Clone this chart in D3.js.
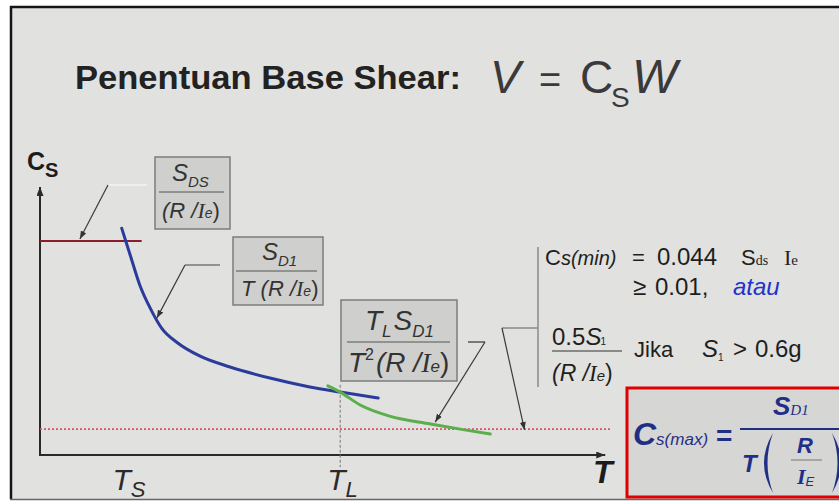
<!DOCTYPE html>
<html>
<head>
<meta charset="utf-8">
<script src="https://cdn.jsdelivr.net/npm/d3@7"></script>
<style>
body { margin: 0; background: #fff; }
svg { display: block; }
text { font-family: "Liberation Sans", Arial, sans-serif; white-space: pre; }
</style>
</head>
<body>
<div id="chart"></div>
<script>
const width = 839, height = 502;

// values (T in s, Cs dimensionless)
const plateauT = [0, 1.07];
const plateauCs = 0.793;
const descT = [0.86, 0.95, 1.05, 1.16, 1.28, 1.45, 1.68, 2.0, 2.42, 2.84, 3.16, 3.56];
const descCs = [0.84, 0.74, 0.63, 0.544, 0.47, 0.415, 0.367, 0.326, 0.285, 0.252, 0.233, 0.211];
const longT = [3.03, 3.16, 3.37, 3.68, 4.11, 4.47, 4.74];
const longCs = [0.256, 0.233, 0.185, 0.144, 0.115, 0.093, 0.078];
const csMin = 0.096;
const periodTicks = [0.9, 3.16];
const periodSubs = ["S", "L"];
const tMax = 6, csTop = 1;

// where the leader arrows point (data units)
const arrowT = [0.42, 1.23, 4.16, 5.1];
const arrowCs = [0.80, 0.507, 0.122, 0.093];

const svg = d3.select("#chart").append("svg")
    .attr("width", width)
    .attr("height", height);

const x = d3.scaleLinear().domain([0, tMax]).range([40, 610]);
const y = d3.scaleLinear().domain([0, csTop]).range([455, 185]);

// slide frame
svg.append("rect").attr("x", 10).attr("y", 7).attr("width", width - 10).attr("height", 492)
    .attr("fill", "#e1e1df");
svg.append("line").attr("x1", 10).attr("x2", width).attr("y1", 7).attr("y2", 7)
    .attr("stroke", "#151515").attr("stroke-width", 2.5);
svg.append("line").attr("x1", 11).attr("x2", 11).attr("y1", 6).attr("y2", 499)
    .attr("stroke", "#151515").attr("stroke-width", 2.5);
svg.append("line").attr("x1", 10).attr("x2", width).attr("y1", 499.5).attr("y2", 499.5)
    .attr("stroke", "#666").attr("stroke-width", 1.5);

const defs = svg.append("defs");
const marker = (id, color, w, h) => {
    defs.append("marker").attr("id", id)
        .attr("markerUnits", "userSpaceOnUse")
        .attr("markerWidth", w).attr("markerHeight", h)
        .attr("refX", w).attr("refY", h / 2)
        .attr("orient", "auto")
        .append("path").attr("d", `M0,0L${w},${h / 2}L0,${h}Z`).attr("fill", color);
};
marker("axisArrow", "#2a2a2a", 9, 7);
marker("leadArrow", "#333", 8, 6);

// rich text helper: parts with size, italic, bold, serif, baseline shift
const rich = (px, py, parts, fill) => {
    const t = svg.append("text").attr("x", px).attr("y", py).attr("fill", fill || "#333");
    let cur = 0;
    parts.forEach(p => {
        const sh = p.sh || 0;
        const ts = t.append("tspan")
            .attr("dy", sh - cur)
            .attr("font-size", p.s)
            .attr("font-style", p.i ? "italic" : "normal")
            .attr("font-weight", p.b ? "bold" : "normal")
            .text(p.t);
        if (p.x !== undefined) ts.attr("x", p.x);
        if (p.dx) ts.attr("dx", p.dx);
        if (p.f) ts.attr("font-family", "'Liberation Serif', 'Times New Roman', serif");
        if (p.fill) ts.attr("fill", p.fill);
        cur = sh;
    });
    return t;
};

// title
svg.append("text").attr("x", 75).attr("y", 89)
    .attr("font-size", 33).attr("font-weight", "bold").attr("fill", "#222")
    .attr("textLength", 386).attr("lengthAdjust", "spacingAndGlyphs")
    .text("Penentuan Base Shear:");
rich(490, 93, [
    {t: "V", s: 46, i: true},
    {t: "=", s: 38, x: 539},
    {t: "C", s: 46, x: 580},
    {t: "S", s: 28, x: 611, sh: 14},
    {t: "W", s: 48, i: true, x: 632, sh: 0}
], "#3a3a3a");

// axes
const xAxis = d3.axisBottom(x).tickValues([]).tickSizeOuter(0);
const gx = svg.append("g").attr("transform", `translate(0,${y(0)})`).call(xAxis);
gx.select(".domain").remove();
gx.append("line").attr("x1", x(0)).attr("x2", x(5.95)).attr("y1", 0).attr("y2", 0)
    .attr("stroke", "#2a2a2a").attr("stroke-width", 2).attr("marker-end", "url(#axisArrow)");

const yAxis = d3.axisLeft(y).tickValues([]).tickSizeOuter(0);
const gy = svg.append("g").attr("transform", `translate(${x(0)},0)`).call(yAxis);
gy.select(".domain").remove();
gy.append("line").attr("x1", 0).attr("x2", 0).attr("y1", y(0) + 1).attr("y2", y(0.993))
    .attr("stroke", "#2a2a2a").attr("stroke-width", 2).attr("marker-end", "url(#axisArrow)");

// axis titles
rich(27, 170, [{t: "C", s: 25, b: true}, {t: "S", s: 20, b: true, sh: 7}], "#1c1c1c");
rich(593, 483, [{t: "T", s: 32, b: true, i: true}], "#1c1c1c");

// period labels + T_L guide
periodTicks.forEach((t, i) => {
    rich(x(t) - 13, 490, [{t: "T", s: 30, i: true}, {t: periodSubs[i], s: 22, i: true, sh: 7}], "#2a2a2a");
});
svg.append("line")
    .attr("x1", x(periodTicks[1])).attr("x2", x(periodTicks[1]))
    .attr("y1", y(0.26)).attr("y2", y(-0.045))
    .attr("stroke", "#777").attr("stroke-width", 1).attr("stroke-dasharray", "3,2");

// Cs min line
svg.append("line")
    .attr("x1", x(0)).attr("x2", x(tMax)).attr("y1", y(csMin)).attr("y2", y(csMin))
    .attr("stroke", "#e0506a").attr("stroke-width", 1.6).attr("stroke-dasharray", "2,2");

// plateau
svg.append("line")
    .attr("x1", x(plateauT[0])).attr("x2", x(plateauT[1]))
    .attr("y1", y(plateauCs)).attr("y2", y(plateauCs))
    .attr("stroke", "#8a1c2e").attr("stroke-width", 2);

const line = d3.line().x(d => x(d[0])).y(d => y(d[1])).curve(d3.curveMonotoneX);
svg.append("path").datum(descT.map((t, i) => [t, descCs[i]]))
    .attr("d", line).attr("fill", "none")
    .attr("stroke", "#2b3b9c").attr("stroke-width", 3).attr("stroke-linecap", "round");
svg.append("path").datum(longT.map((t, i) => [t, longCs[i]]))
    .attr("d", line).attr("fill", "none")
    .attr("stroke", "#5aae4c").attr("stroke-width", 3).attr("stroke-linecap", "round");

// formula boxes
const boxes = [
    {x: 155, y: 157, w: 75, h: 72},
    {x: 233, y: 237, w: 90, h: 68},
    {x: 341, y: 300, w: 116, h: 81}
];
svg.selectAll("rect.box").data(boxes).enter().append("rect")
    .attr("class", "box")
    .attr("x", d => d.x).attr("y", d => d.y).attr("width", d => d.w).attr("height", d => d.h)
    .attr("fill", "#cfcfcd").attr("stroke", "#7c7c7c").attr("stroke-width", 1.5);

const fracLine = (x1, x2, yy, color, w) => svg.append("line")
    .attr("x1", x1).attr("x2", x2).attr("y1", yy).attr("y2", yy)
    .attr("stroke", color || "#555").attr("stroke-width", w || 1);

rich(172, 181, [{t: "S", s: 24, i: true}, {t: "DS", s: 15, i: true, sh: 6}]);
fracLine(159, 224, 192);
rich(162, 218, [{t: "(R /", s: 22, i: true}, {t: "I", s: 22, i: true, f: true}, {t: "e", s: 14, i: true, sh: 0}, {t: ")", s: 22}]);

rich(262, 260, [{t: "S", s: 24, i: true}, {t: "D1", s: 15, i: true, sh: 6}]);
fracLine(236, 317, 271);
rich(241, 296, [{t: "T", s: 22, i: true}, {t: " (R /", s: 22, i: true}, {t: "I", s: 22, i: true, f: true}, {t: "e", s: 14, i: true}, {t: ")", s: 22}]);

rich(365, 330, [{t: "T", s: 28, i: true}, {t: "L", s: 17, i: true, sh: 7}, {t: "S", s: 28, i: true, sh: 0, dx: 2}, {t: "D1", s: 17, i: true, sh: 7}]);
fracLine(347, 450, 342);
rich(348, 372, [{t: "T", s: 28, i: true}, {t: "2", s: 16, sh: -12}, {t: "(R /", s: 28, i: true, sh: 0, dx: 2}, {t: "I", s: 28, i: true, f: true}, {t: "e", s: 17, i: true}, {t: ")", s: 28}]);

// leaders
const leaders = [
    {pts: [[147, 185], [108, 185]], color: "#f2f2f2"},
    {pts: [[220, 265], [185, 265]], color: "#777"},
    {pts: [[468, 342], [485, 342]], color: "#555"},
    {pts: [[538, 328], [502, 328]], color: "#888"}
];
leaders.forEach((l, i) => {
    svg.append("line")
        .attr("x1", l.pts[0][0]).attr("y1", l.pts[0][1]).attr("x2", l.pts[1][0]).attr("y2", l.pts[1][1])
        .attr("stroke", l.color).attr("stroke-width", 1.5);
    svg.append("line")
        .attr("x1", l.pts[1][0]).attr("y1", l.pts[1][1])
        .attr("x2", x(arrowT[i])).attr("y2", y(arrowCs[i]))
        .attr("stroke", "#3a3a3a").attr("stroke-width", 1.2).attr("marker-end", "url(#leadArrow)");
});

// bracket for the Cs(min) rules
svg.append("line").attr("x1", 538).attr("x2", 538).attr("y1", 247).attr("y2", 387)
    .attr("stroke", "#8a8a8a").attr("stroke-width", 1.5);

rich(545, 265, [
    {t: "C", s: 22},
    {t: "s(min)", s: 20, i: true},
    {t: "=", s: 22, x: 632},
    {t: "0.044", s: 24, x: 657},
    {t: "S", s: 22, x: 741},
    {t: "ds", s: 14, f: true},
    {t: "I", s: 22, f: true, x: 784},
    {t: "e", s: 15, f: true}
], "#1e1e1e");
rich(633, 295, [
    {t: "≥", s: 24},
    {t: "0.01,", s: 24, x: 655},
    {t: "atau", s: 24, i: true, x: 733, fill: "#2233cc"}
], "#1e1e1e");
rich(552, 345, [{t: "0.5", s: 24}, {t: "S", s: 24, i: true}, {t: "1", s: 10, sh: 0, dx: -1}], "#1e1e1e");
fracLine(552, 622, 351, "#333", 1.2);
rich(552, 381, [{t: "(R /", s: 23, i: true}, {t: "I", s: 23, i: true, f: true}, {t: "e", s: 15, i: true}, {t: ")", s: 23}], "#1e1e1e");
rich(634, 357, [
    {t: "Jika", s: 22},
    {t: "S", s: 24, i: true, x: 702},
    {t: "1", s: 10, sh: 4},
    {t: ">", s: 24, x: 733, sh: 0},
    {t: "0.6g", s: 24, x: 755}
], "#1e1e1e");

// Cs(max) box
svg.append("rect").attr("x", 627).attr("y", 388).attr("width", 230).attr("height", 109)
    .attr("fill", "#d6d6d4").attr("stroke", "#e00000").attr("stroke-width", 3);
const navy = "#1f2f86";
rich(633, 445, [{t: "C", s: 32, b: true, i: true}, {t: "s(max)", s: 17, i: true}], navy);
rich(716, 445, [{t: "=", s: 28, b: true}], navy);
rich(773, 415, [{t: "S", s: 26, b: true, i: true}, {t: "D1", s: 15, i: true, f: true}], navy);
fracLine(740, width, 429, navy, 2);
rich(742, 472, [{t: "T", s: 24, b: true, i: true}], navy);
svg.append("path").attr("d", "M773,433 Q755,463 773,493 Q762,463 773,433Z").attr("fill", navy);
svg.append("path").attr("d", "M832,433 Q850,463 832,493 Q843,463 832,433Z").attr("fill", navy);
rich(797, 453, [{t: "R", s: 22, b: true, i: true}], navy);
fracLine(791, 822, 460, "#777", 1);
rich(797, 484, [{t: "I", s: 22, b: true, i: true, f: true}, {t: "E", s: 13, i: true, sh: 2}], navy);
</script>
</body>
</html>
